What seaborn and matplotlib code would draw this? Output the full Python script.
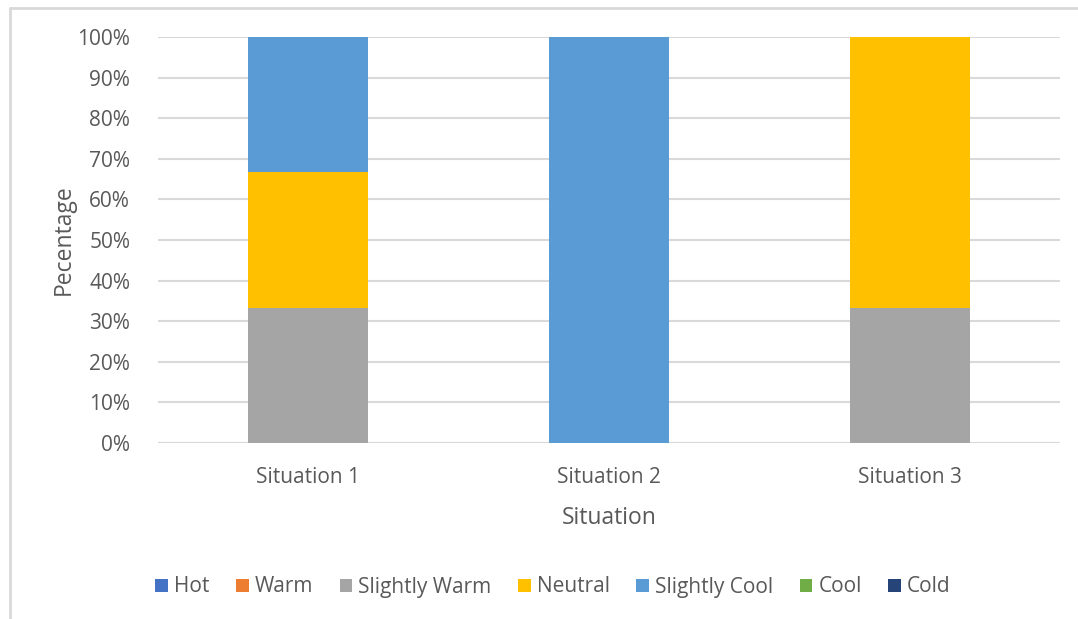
import matplotlib
matplotlib.use("Agg")
import matplotlib.pyplot as plt
from matplotlib.patches import Patch
from matplotlib.lines import Line2D
import seaborn as sns
import pandas as pd

# Thermal sensation votes per situation (percent of responses)
situations = ["Situation 1", "Situation 2", "Situation 3"]
sensations = ["Hot", "Warm", "Slightly Warm", "Neutral", "Slightly Cool", "Cool", "Cold"]
hot = [0, 0, 0]
warm = [0, 0, 0]
slightly_warm = [33.33, 0, 33.33]
neutral = [33.33, 0, 66.67]
slightly_cool = [33.34, 100, 0]
cool = [0, 0, 0]
cold = [0, 0, 0]

palette = {
    "Hot": "#4472C4",
    "Warm": "#ED7D31",
    "Slightly Warm": "#A5A5A5",
    "Neutral": "#FFC000",
    "Slightly Cool": "#5B9BD5",
    "Cool": "#70AD47",
    "Cold": "#264478",
}

series = [hot, warm, slightly_warm, neutral, slightly_cool, cool, cold]
rows = []
for name, vals in zip(sensations, series):
    for sit, v in zip(situations, vals):
        rows.append({"Situation": sit, "Sensation": name, "Value": v})
df = pd.DataFrame(rows)
df["Sensation"] = pd.Categorical(df["Sensation"], categories=sensations, ordered=True)
df = df.sort_values(["Situation", "Sensation"])
df["Top"] = df.groupby("Situation")["Value"].cumsum()

sns.set_theme(style="white")
plt.rcParams["font.family"] = ["Open Sans", "DejaVu Sans"]
text_color = "#595959"

fig = plt.figure(figsize=(10.78, 6.19), dpi=100)
ax = fig.add_axes([158 / 1078, 176 / 619, (1060 - 158) / 1078, (443 - 37) / 619])

# Stacked bars: draw cumulative tops from the last layer down so lower layers sit in front
for name in reversed(sensations):
    part = df[(df["Sensation"] == name) & (df["Value"] > 0)]
    if part.empty:
        continue
    sns.barplot(data=part, x="Situation", y="Top", order=situations,
                color=palette[name], width=0.4, saturation=1, ax=ax,
                zorder=3, linewidth=0)

ax.set_xlim(-0.5, 2.5)
ax.set_ylim(0, 100)
ax.set_yticks(range(0, 101, 10))
ax.set_yticklabels([f"{t}%" for t in range(0, 101, 10)])
ax.yaxis.grid(True, color="#D9D9D9", linewidth=1.5, zorder=0)
ax.set_axisbelow(True)
for s in ax.spines.values():
    s.set_visible(False)
ax.axhline(0, color="#D9D9D9", linewidth=1.5, zorder=1)
ax.tick_params(axis="both", length=0, labelsize=15, labelcolor=text_color)
ax.tick_params(axis="y", pad=20)
ax.tick_params(axis="x", pad=17)
ax.set_xlabel("Situation", fontsize=16.5, color=text_color, labelpad=13.5)
ax.set_ylabel("Pecentage", fontsize=16.5, color=text_color, labelpad=1.5)

handles = [Patch(facecolor=palette[n], edgecolor="none", label=n) for n in sensations]
fig.legend(handles=handles, loc="center", bbox_to_anchor=(553 / 1078, 1 - 587 / 619),
           ncol=7, frameon=False, fontsize=15, handlelength=0.6, handleheight=0.6,
           handletextpad=0.3, columnspacing=1.27, labelcolor=text_color)

# Chart area border (left and top edges)
fig.add_artist(Line2D([9.5 / 1078, 9.5 / 1078], [0, 1 - 8 / 619], transform=fig.transFigure,
                      color="#D9D9D9", linewidth=2))
fig.add_artist(Line2D([9.5 / 1078, 1], [1 - 8 / 619, 1 - 8 / 619], transform=fig.transFigure,
                      color="#D9D9D9", linewidth=2))

fig.savefig("out.png", dpi=100, facecolor="white")
